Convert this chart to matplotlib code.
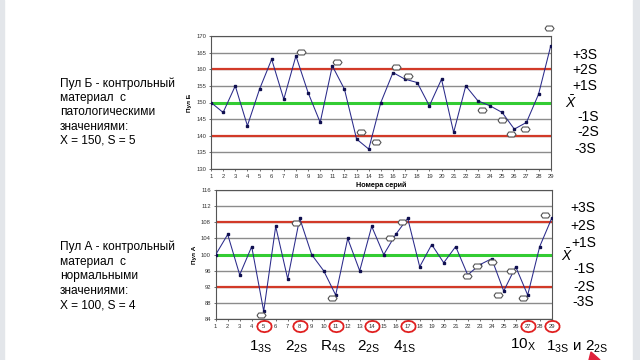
import matplotlib.pyplot as plt
import matplotlib.patches as mpatches

plt.rcParams['font.family'] = ['Liberation Sans', 'DejaVu Sans']
plt.rcParams['mathtext.fontset'] = 'custom'
plt.rcParams['mathtext.rm'] = 'Liberation Sans'
plt.rcParams['mathtext.it'] = 'Liberation Sans:italic'

# данные
series = list(range(1, 30))
pool_b = [150, 147, 155, 143, 154, 163, 151, 164, 153, 144, 161, 154, 139, 136, 150,
          159, 157, 156, 149, 157, 141, 155, 150.5, 149, 147, 142, 144, 152.5, 167]
pool_a = [100, 105, 95, 102, 86, 107, 94, 109, 100, 96, 90, 104, 96, 107, 100,
          105, 109, 97, 102.5, 98, 102, 95, 97.5, 99, 91, 97, 90, 102, 109]

# "облачка" у точек с нарушениями
flags_b_x = [8.4, 11.4, 13.4, 14.6, 16.25, 17.2, 23.3, 25.0, 25.7, 26.9, 28.9]
flags_b_y = [165.2, 162.3, 141, 138.2, 160.8, 158, 147.6, 144.8, 140.5, 142, 172.3]
flags_a_x = [4.78, 7.69, 10.67, 15.5, 16.5, 21.97, 22.8, 24.0, 24.55, 25.6, 26.6, 28.44]
flags_a_y = [85.0, 107.75, 89.3, 104.0, 108.2, 94.7, 97.1, 98.1, 90.0, 96.0, 89.3, 109.9]

circled = [5, 8, 11, 14, 17, 27, 29]
rules_x = [5, 8, 11, 14, 17]
rules = [r'$\mathregular{1_{3S}}$', r'$\mathregular{2_{2S}}$', r'$\mathregular{R_{4S}}$',
         r'$\mathregular{2_{2S}}$', r'$\mathregular{4_{1S}}$']

text_b = ['Пул Б - контрольный', 'материал  с', 'патологическими', 'значениями:', 'X = 150, S = 5']
text_a = ['Пул А - контрольный', 'материал  с', 'нормальными', 'значениями:', 'X = 100, S = 4']
sigma_labels = ['+3S', '+2S', '+1S', r'$\bar{X}$', '-1S', '-2S', '-3S']

line_col = '#2a2a8a'
red = '#d23a28'
green = '#33cc33'
grid_col = '#8c8c8c'

cloud = [(-1, 0), (-0.6, 0.55), (0.6, 0.55), (1, 0), (0.6, -0.55), (-0.6, -0.55), (-1, 0)]
ell = [(1.0, 0.0), (0.87, 0.39), (0.5, 0.68), (0.0, 0.78), (-0.5, 0.68), (-0.87, 0.39), (-1.0, 0.0),
       (-0.87, -0.39), (-0.5, -0.68), (0.0, -0.78), (0.5, -0.68), (0.87, -0.39), (1.0, 0.0)]

fig = plt.figure(figsize=(6.4, 3.6), dpi=100)
fig.patches.append(mpatches.Rectangle((0, 0), 4 / 640, 1, transform=fig.transFigure,
                                      color='#e3e6ea', zorder=0))
fig.patches.append(mpatches.Rectangle((633 / 640, 0), 7 / 640, 1, transform=fig.transFigure,
                                      color='#e3e6ea', zorder=0))


def draw(ax, vals, mean, s, step, lo, hi, fx, fy, ylabel):
    for v in range(lo, hi + 1, step):
        ax.axhline(v, color=grid_col, lw=1.0, zorder=1)
    ax.axhline(mean + 2 * s, color=red, lw=1.6, zorder=2)
    ax.axhline(mean - 2 * s, color=red, lw=1.6, zorder=2)
    ax.axhline(mean, color=green, lw=2.2, zorder=2)
    ax.plot(series, vals, color=line_col, lw=0.75, marker='s', ms=1.7, mfc='#101050',
            mec='#101050', zorder=3)
    ax.plot(fx, fy, ls='none', marker=cloud, ms=6.5, mfc='white', mec='#555555',
            mew=0.8, zorder=4, clip_on=False)
    ax.set_xlim(1, 29)
    ax.set_ylim(lo, hi)
    ax.set_xticks(series)
    ax.set_yticks(range(lo, hi + 1, step))
    ax.tick_params(labelsize=4.2, length=1.5, width=0.5, pad=2, colors='#333333')
    ax.set_ylabel(ylabel, fontsize=4.6, fontweight='bold', labelpad=3)
    for sp in ax.spines.values():
        sp.set_color('#555555')
        sp.set_linewidth(0.8)


ax1 = fig.add_axes([211 / 640, 1 - 169 / 360, 339.7 / 640, 133 / 360])
draw(ax1, pool_b, 150, 5, 5, 130, 170, flags_b_x, flags_b_y, 'Пул Б')
ax1.set_xlabel('Номера серий', fontsize=5.2, fontweight='bold', labelpad=2)

ax2 = fig.add_axes([215.7 / 640, 1 - 319.3 / 360, 336 / 640, 129.3 / 360])
draw(ax2, pool_a, 100, 4, 4, 84, 116, flags_a_x, flags_a_y, 'Пул А')

# красные кружки вокруг номеров серий
ax2.plot(circled, [-0.052] * len(circled), ls='none', marker=ell, ms=10.5, mfc='none',
         mec='#e02020', mew=1.3, transform=ax2.get_xaxis_transform(), clip_on=False)
for x, r in zip(rules_x, rules):
    ax2.text(x - 0.25, -0.21, r, fontsize=11, ha='center', va='center',
             transform=ax2.get_xaxis_transform())
ax2.text(26.6, -0.2, r'$\mathregular{10_{X}}$', fontsize=11, ha='center', va='center',
         transform=ax2.get_xaxis_transform())
ax2.text(28.5, -0.21, r'$\mathregular{1_{3S}}$ и $\mathregular{2_{2S}}$', fontsize=11,
         ha='left', va='center', transform=ax2.get_xaxis_transform())

# текст слева
for i, t in enumerate(text_b):
    fig.text(60 / 640, 1 - (83.3 + i * 14.4) / 360, t, fontsize=8.6, va='center')
for i, t in enumerate(text_a):
    fig.text(60 / 640, 1 - (246.7 + i * 14.8) / 360, t, fontsize=8.6, va='center')

# подписи сигм справа
top_y = [55, 70, 86, 103, 117, 132, 149]
top_x = [572, 572, 572, 565, 577, 577, 574]
bot_y = [208, 226, 243, 256, 269, 287, 302]
bot_x = [570, 570, 571, 561, 573, 573, 572]
for lab, x, y in zip(sigma_labels, top_x, top_y):
    fig.text(x / 640, 1 - y / 360, lab, fontsize=10, va='center')
for lab, x, y in zip(sigma_labels, bot_x, bot_y):
    fig.text(x / 640, 1 - y / 360, lab, fontsize=10, va='center')

# кусочек красной стрелки
fig.patches.append(mpatches.Polygon([(589 / 640, 0.0), (591 / 640, 1 - 352 / 360),
                                     (600 / 640, 0.0)], closed=True, transform=fig.transFigure,
                                    color='#e0203a', zorder=5))

fig.savefig('out.png', dpi=100)
